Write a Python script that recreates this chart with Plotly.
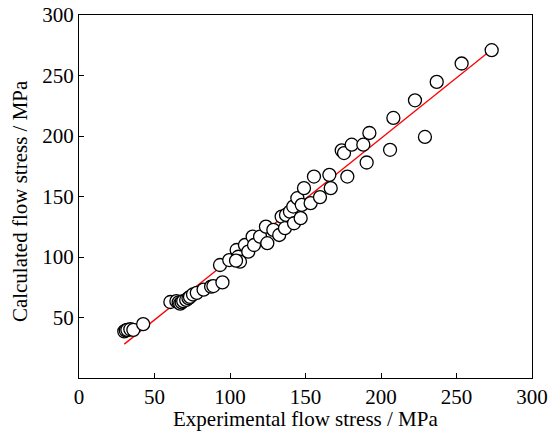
import plotly.graph_objects as go

# Experimental vs calculated flow stress (MPa)
exp_stress = [30, 31, 32, 34, 36, 42.5,
              60.5, 64.5, 66, 67, 68, 69, 71, 72.5, 73.5, 75.5, 78, 82.5, 87.5, 89, 95,
              93.4, 99.5, 104.4, 105.5, 106.6, 104, 109.9, 112.1, 115.0, 115.9, 119.9,
              123.8, 124.7, 128.7, 132.6, 134.2, 136.4, 137.1, 139.7, 141.9, 142.4,
              144.6, 146.8, 147.5, 149.0, 153.4, 155.6, 159.6, 165.8, 166.7,
              174.0, 175.5, 177.7, 180.6, 188.3, 190.5, 192.3, 206, 208.2, 222.5,
              229.1, 236.9, 253.4, 273.3]
calc_stress = [38.5, 39.3, 39.8, 40.3, 39.8, 44.5,
               62.8, 63.5, 62.5, 61.5, 62.5, 63.5, 64.5, 66, 67, 69, 70.4, 73, 75.5, 76, 79,
               93.4, 97.5, 105.8, 100.2, 96.1, 97, 109.9, 104.4, 116.8, 109.9, 116.8,
               125.1, 111.4, 122.4, 118.2, 133.4, 123.8, 134.8, 137.5, 141.7, 127.9,
               148.6, 132.1, 143.1, 156.9, 144.5, 166.5, 149.5, 167.9, 156.9,
               188.1, 185.9, 166.5, 192.8, 192.8, 178.1, 202.5, 188.6, 214.9, 229.5,
               199.2, 244.7, 259.9, 270.9]

# Fitted line endpoints
fit_x = [30, 273]
fit_y = [28, 271]

x_ticks = [0, 50, 100, 150, 200, 250, 300]
y_ticks = [50, 100, 150, 200, 250, 300]

x_title = "Experimental flow stress / MPa"
y_title = "Calculated flow stress / MPa"

font_family = "Liberation Serif"

fig = go.Figure()
fig.add_trace(go.Scatter(
    x=fit_x, y=fit_y, mode="lines",
    line=dict(color="#ff0000", width=1.3),
    showlegend=False, hoverinfo="skip"))
fig.add_trace(go.Scatter(
    x=exp_stress, y=calc_stress, mode="markers",
    marker=dict(symbol="circle", size=13, color="white",
                line=dict(color="black", width=1.3)),
    showlegend=False))

axis_common = dict(
    showline=True, linecolor="black", linewidth=1.3, mirror=True,
    ticks="inside", ticklen=5, tickwidth=1.3, tickcolor="black",
    showgrid=False, zeroline=False, automargin=False,
    tickfont=dict(family=font_family, size=21, color="black"),
)

fig.update_layout(
    width=549, height=432,
    margin=dict(l=79, r=17, t=15, b=54),
    paper_bgcolor="white", plot_bgcolor="white",
    font=dict(family=font_family, color="black"),
    xaxis=dict(range=[0, 300], tickvals=x_ticks, **axis_common),
    yaxis=dict(range=[0, 300], tickvals=y_ticks, **axis_common),
    annotations=[
        dict(text=x_title, xref="paper", yref="paper", x=0.5, y=-0.113,
             xanchor="center", yanchor="middle", showarrow=False,
             font=dict(family=font_family, size=21, color="black")),
        dict(text=y_title, xref="paper", yref="paper", x=-0.130, y=0.4876,
             xanchor="center", yanchor="middle", showarrow=False, textangle=-90,
             font=dict(family=font_family, size=21, color="black")),
    ],
)

fig.write_html("out.html")
